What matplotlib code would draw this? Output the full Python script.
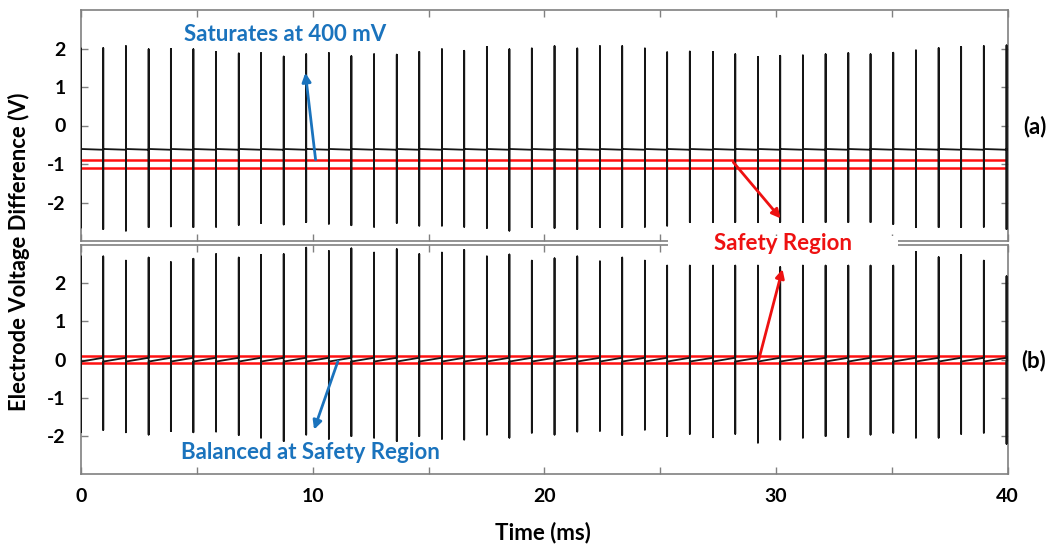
import matplotlib
matplotlib.use("Agg")
import matplotlib.pyplot as plt
from matplotlib.patches import Rectangle

plt.rcParams['font.family'] = ['Lato', 'DejaVu Sans']
plt.rcParams['font.weight'] = 'bold'
plt.rcParams['axes.unicode_minus'] = False

# ---- data ----
spike_times = [0.0, 0.96, 1.94, 2.92, 3.88, 4.85, 5.83, 6.81, 7.77, 8.75, 9.72,
               10.70, 11.67, 12.65, 13.63, 14.60, 15.58, 16.54, 17.52, 18.49, 19.46,
               20.44, 21.42, 22.40, 23.36, 24.34, 25.30, 26.28, 27.28, 28.24, 29.22,
               30.18, 31.16, 32.14, 33.12, 34.08, 35.06, 36.04, 37.02, 37.99, 38.97, 39.95]

a_peaks = [2.00, 2.01, 2.06, 1.98, 1.99, 1.98, 1.91, 1.87, 1.88, 1.79, 1.85, 1.88, 1.80, 1.85,
           1.84, 1.91, 1.98, 1.94, 2.04, 1.98, 2.00, 2.06, 2.00, 2.06, 2.06, 2.00, 1.90,
           1.92, 1.91, 1.85, 1.78, 1.81, 1.82, 1.85, 1.88, 1.85, 1.89, 1.95, 2.01, 2.04,
           2.06, 2.08]
a_troughs = [-2.65, -2.69, -2.73, -2.64, -2.62, -2.64, -2.63, -2.58, -2.53, -2.57, -2.51,
             -2.55, -2.59, -2.63, -2.53, -2.60, -2.60, -2.63, -2.66, -2.73, -2.64, -2.66,
             -2.69, -2.64, -2.64, -2.63, -2.60, -2.51, -2.51, -2.51, -2.51, -2.51, -2.51,
             -2.51, -2.51, -2.51, -2.56, -2.64, -2.64, -2.64, -2.63, -2.69]
a_base = [-0.61, -0.63]          # baseline just after / just before each spike
a_safety = [-0.9, -1.1]

b_peaks = [2.70, 2.70, 2.59, 2.67, 2.55, 2.64, 2.76, 2.67, 2.74, 2.76, 2.93, 2.84, 2.91,
           2.80, 2.89, 2.76, 2.80, 2.87, 2.70, 2.75, 2.59, 2.65, 2.70, 2.57, 2.67, 2.59,
           2.46, 2.46, 2.46, 2.46, 2.46, 2.42, 2.46, 2.46, 2.46, 2.46, 2.46, 2.82, 2.68,
           2.74, 2.59, 2.18]
b_troughs = [-1.90, -1.84, -1.90, -1.96, -1.87, -1.90, -1.88, -1.97, -2.04, -2.13, -1.96,
             -2.07, -2.00, -2.04, -2.13, -2.00, -2.07, -2.09, -1.96, -2.04, -1.91, -1.96,
             -1.88, -1.86, -1.97, -1.83, -2.00, -1.94, -2.03, -1.94, -2.17, -2.09, -2.04,
             -2.00, -2.03, -1.96, -1.91, -2.04, -2.04, -1.94, -1.91, -2.20]
b_base = [-0.05, 0.05]
b_safety = [0.1, -0.1]

x_ticks = [0, 5, 10, 15, 20, 25, 30, 35, 40]
x_labels = ['0', '', '10', '', '20', '', '30', '', '40']
y_ticks = [-2, -1, 0, 1, 2]
y_labels = ['-2', '-1', '0', '1', '2']


def trace(times, peaks, troughs, base):
    xs, ys = [], []
    for t, p, q in zip(times, peaks, troughs):
        xs += [t, t, t, t]
        ys += [base[1], p, q, base[0]]
    xs.append(40)
    ys.append(base[1])
    return xs, ys


fig = plt.figure(figsize=(10.6, 5.52), dpi=100)
L, W = 81 / 1060, (1007.7 - 81) / 1060
ax_a = fig.add_axes([L, 1 - 241 / 552, W, 231 / 552])
ax_b = fig.add_axes([L, 1 - 474.3 / 552, W, 229.3 / 552])

spine_c = '#808080'
for ax, peaks, troughs, base, safety in [(ax_a, a_peaks, a_troughs, a_base, a_safety),
                                          (ax_b, b_peaks, b_troughs, b_base, b_safety)]:
    for yv in safety:
        ax.axhline(yv, color='#ff1010', lw=1.8, zorder=2)
    xs, ys = trace(spike_times, peaks, troughs, base)
    ax.plot(xs, ys, color='#151515', lw=1.3, zorder=3)
    ax.set_xlim(0, 40)
    ax.set_ylim(-3, 3)
    ax.set_xticks(x_ticks)
    ax.set_yticks(y_ticks)
    ax.set_yticklabels(y_labels)
    ax.tick_params(direction='in', length=5, width=1, color=spine_c, top=True, right=True,
                   labelsize=14, pad=11)
    for s in ax.spines.values():
        s.set_color(spine_c)
        s.set_linewidth(1.2)
    for lab in ax.get_yticklabels():
        lab.set_fontweight('bold')

ax_a.set_xticklabels([])
ax_b.set_xticklabels(x_labels, fontweight='bold')
ax_b.tick_params(axis='x', pad=10)

# annotations
blue = '#1a73bd'
red = '#ee1111'
ax_a.text(8.8, 2.37, 'Saturates at 400 mV', color=blue, fontsize=16, fontweight='bold',
          ha='center', va='center')
ax_a.annotate('', xy=(9.67, 1.44), xytext=(10.14, -0.96),
              arrowprops=dict(arrowstyle='-|>', color=blue, lw=2, mutation_scale=13))
ax_b.text(9.9, -2.42, 'Balanced at Safety Region', color=blue, fontsize=16,
          fontweight='bold', ha='center', va='center')
ax_b.annotate('', xy=(10.02, -1.90), xytext=(11.13, 0.03),
              arrowprops=dict(arrowstyle='-|>', color=blue, lw=2, mutation_scale=13))
ax_a.annotate('', xy=(30.28, -2.47), xytext=(28.08, -0.9),
              arrowprops=dict(arrowstyle='-|>', color=red, lw=2, mutation_scale=13))
ax_b.annotate('', xy=(30.31, 2.44), xytext=(29.23, -0.06),
              arrowprops=dict(arrowstyle='-|>', color=red, lw=2, mutation_scale=13))

fig.patches.append(Rectangle((668 / 1060, 1 - 253 / 552), 230 / 1060, 17 / 552,
                             transform=fig.transFigure, facecolor='white',
                             edgecolor='none', zorder=5))
fig.text(783 / 1060, 1 - 244 / 552, 'Safety Region', color=red, fontsize=16,
         fontweight='bold', ha='center', va='center', zorder=6)

fig.text(1035 / 1060, 1 - 127 / 552, '(a)', fontsize=16, fontweight='bold',
         ha='center', va='center')
fig.text(1034 / 1060, 1 - 361 / 552, '(b)', fontsize=16, fontweight='bold',
         ha='center', va='center')

fig.text(19 / 1060, 1 - 252 / 552, 'Electrode Voltage Difference (V)', rotation=90,
         fontsize=15.8, fontweight='bold', ha='center', va='center')
fig.text(543 / 1060, 1 - 533 / 552, 'Time (ms)', fontsize=16, fontweight='bold',
         ha='center', va='center')

fig.savefig('out.png', dpi=100)
